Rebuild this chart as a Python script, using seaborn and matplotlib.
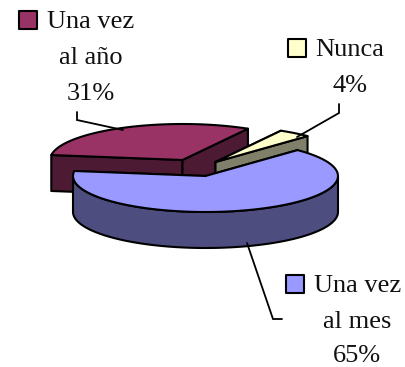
import numpy as np
import pandas as pd
import matplotlib
matplotlib.use("Agg")
import matplotlib.pyplot as plt
import seaborn as sns

# Slices, in the order they go round the pie
categories = ["Nunca", "Una vez al año", "Una vez al mes"]
percent = [4, 31, 65]
top_colors = ["#FFFFCC", "#993366", "#9999FF"]
side_colors = ["#80806A", "#4D1A33", "#4D4D80"]
label_lines = [["Nunca", "4%"], ["Una vez", "al año", "31%"], ["Una vez", "al mes", "65%"]]

df = pd.DataFrame({"category": categories, "percent": percent,
                   "top": top_colors, "side": side_colors})

sns.set_style("white")
plt.rcParams["font.family"] = ["Liberation Serif", "DejaVu Serif"]

fig = plt.figure(figsize=(4.06, 3.67), dpi=100)
ax = fig.add_axes([0, 0, 1, 1])
ax.set_xlim(0, 406)
ax.set_ylim(367, 0)
ax.axis("off")

# Pie layout in pixels: centre, radii, depth, start angle, slice offsets
cx, cy = 205.5, 176
rx, ry = 132.5, 36
depth = 36
start_angle = 46
offsets = {"Nunca": (10, -14), "Una vez al año": (-23, -16), "Una vez al mes": (0, 0)}
line = dict(edgecolor="black", linewidth=1.5, joinstyle="round")

df["end"] = start_angle + df["percent"].cumsum() * 3.6
df["start"] = df["end"] - df["percent"] * 3.6


def arc(x0, y0, a, b):
    t = np.radians(np.linspace(a, b, 80))
    return x0 + rx * np.cos(t), y0 - ry * np.sin(t)


def cut_face(x0, y0, angle, color):
    xe, ye = arc(x0, y0, angle, angle)
    xs = [x0, xe[0], xe[0], x0]
    ys = [y0, ye[0], ye[0] + depth, y0 + depth]
    ax.fill(xs, ys, facecolor=color, **line)


# Back slices first, the big front one last
for name in ["Una vez al año", "Nunca", "Una vez al mes"]:
    row = df[df["category"] == name].iloc[0]
    dx, dy = offsets[name]
    x0, y0 = cx + dx, cy + dy
    cut_face(x0, y0, row["end"], row["side"])
    cut_face(x0, y0, row["start"], row["side"])
    # outer wall only shows on the front half
    a, b = max(row["start"], 180), min(row["end"], 360)
    if b > a:
        xr, yr = arc(x0, y0, a, b)
        ax.fill(np.r_[xr, xr[::-1]], np.r_[yr, yr[::-1] + depth],
                facecolor=row["side"], **line)
    xt, yt = arc(x0, y0, row["start"], row["end"])
    ax.fill(np.r_[x0, xt], np.r_[y0, yt], facecolor=row["top"], **line)

# Leader lines
leaders = [([77, 77, 123], [112, 120, 130]),
           ([339, 339, 297], [104, 113, 137]),
           ([247, 273, 282], [243, 319, 319])]
for xs, ys in leaders:
    ax.plot(xs, ys, color="black", lw=1.3, solid_joinstyle="miter")

# Data labels with their small colour keys
keys = {"Una vez al año": (19.5, 11), "Nunca": (288.5, 39), "Una vez al mes": (286.5, 275)}
text_pos = {"Una vez al año": (47, 91, [28.5, 64, 100]),
            "Nunca": (315, 350, [55.5, 91.5]),
            "Una vez al mes": (314, 357, [291.5, 328, 361.5])}
for name, lines in zip(categories, label_lines):
    row = df[df["category"] == name].iloc[0]
    kx, ky = keys[name]
    ax.add_patch(plt.Rectangle((kx, ky), 18, 18, facecolor=row["top"], **line))
    x_first, x_mid, baselines = text_pos[name]
    for i, (txt, yb) in enumerate(zip(lines, baselines)):
        if i == 0:
            ax.text(x_first, yb, txt, fontsize=19, va="baseline", ha="left", color="#111111")
        else:
            ax.text(x_mid, yb, txt, fontsize=19, va="baseline", ha="center", color="#111111")

fig.savefig("out.png", dpi=100, facecolor="white")
